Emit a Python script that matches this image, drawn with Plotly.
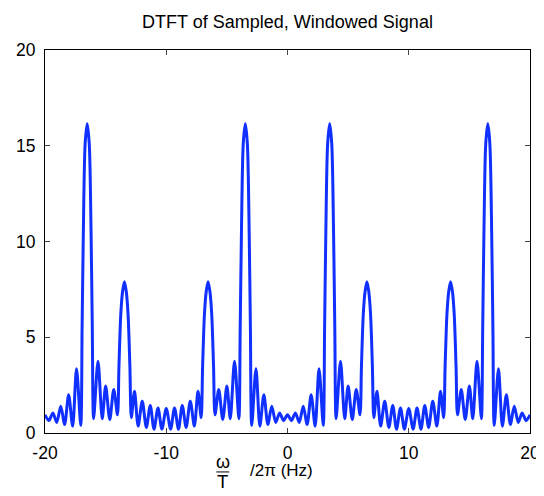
import plotly.graph_objects as go

# frequency (Hz) and |DTFT|, lobe tops and nulls
freq_hz = [-20.00, -19.68, -19.35, -19.03, -18.70, -18.38, -18.05, -17.72, -17.40, -17.05,
           -16.94, -16.84, -16.69, -16.52, -16.35, -16.20, -16.10, -15.99, -15.63, -15.28,
           -15.00, -14.66, -14.33, -14.02, -13.90, -13.75, -13.60, -13.45, -13.30, -13.15,
           -13.00, -12.88, -12.62, -12.32, -11.98, -11.64, -11.32, -11.01, -10.68, -10.36,
           -10.00, -9.64, -9.32, -8.99, -8.68, -8.36, -8.02, -7.68, -7.38, -7.12,
           -7.00, -6.85, -6.70, -6.55, -6.40, -6.25, -6.10, -5.98, -5.67, -5.34,
           -5.00, -4.72, -4.37, -4.01, -3.90, -3.80, -3.65, -3.48, -3.31, -3.16,
           -3.06, -2.95, -2.60, -2.28, -1.95, -1.62, -1.30, -0.97, -0.65, -0.32,
           0.00, 0.32, 0.65, 0.97, 1.30, 1.62, 1.95, 2.28, 2.60, 2.95,
           3.06, 3.16, 3.31, 3.48, 3.65, 3.80, 3.90, 4.01, 4.37, 4.72,
           5.00, 5.34, 5.67, 5.98, 6.10, 6.25, 6.40, 6.55, 6.70, 6.85,
           7.00, 7.12, 7.38, 7.68, 8.02, 8.36, 8.68, 8.99, 9.32, 9.64,
           10.00, 10.36, 10.68, 11.01, 11.32, 11.64, 11.98, 12.32, 12.62, 12.88,
           13.00, 13.15, 13.30, 13.45, 13.60, 13.75, 13.90, 14.02, 14.33, 14.66,
           15.00, 15.28, 15.63, 15.99, 16.10, 16.20, 16.35, 16.52, 16.69, 16.84,
           16.94, 17.05, 17.40, 17.72, 18.05, 18.38, 18.70, 19.03, 19.35, 19.68,
           20.00]

dtft_mag = [0.95, 0.65, 1.05, 0.55, 1.40, 0.45, 2.00, 0.35, 3.35, 0.40,
            5.5, 10.4, 15.1, 16.15, 15.1, 10.4, 5.5, 0.75, 3.75, 0.75,
            2.45, 0.70, 2.27, 0.95, 3.5, 6.2, 7.4, 7.9, 7.4, 6.2,
            3.5, 0.80, 2.18, 0.36, 1.66, 0.29, 1.44, 0.20, 1.31, 0.20,
            1.28, 0.20, 1.31, 0.20, 1.44, 0.29, 1.66, 0.36, 2.18, 0.80,
            3.5, 6.2, 7.4, 7.9, 7.4, 6.2, 3.5, 0.95, 2.27, 0.70,
            2.45, 0.75, 3.75, 0.75, 5.5, 10.4, 15.1, 16.15, 15.1, 10.4,
            5.5, 0.40, 3.35, 0.35, 2.00, 0.45, 1.40, 0.55, 1.05, 0.65,
            0.95, 0.65, 1.05, 0.55, 1.40, 0.45, 2.00, 0.35, 3.35, 0.40,
            5.5, 10.4, 15.1, 16.15, 15.1, 10.4, 5.5, 0.75, 3.75, 0.75,
            2.45, 0.70, 2.27, 0.95, 3.5, 6.2, 7.4, 7.9, 7.4, 6.2,
            3.5, 0.80, 2.18, 0.36, 1.66, 0.29, 1.44, 0.20, 1.31, 0.20,
            1.28, 0.20, 1.31, 0.20, 1.44, 0.29, 1.66, 0.36, 2.18, 0.80,
            3.5, 6.2, 7.4, 7.9, 7.4, 6.2, 3.5, 0.95, 2.27, 0.70,
            2.45, 0.75, 3.75, 0.75, 5.5, 10.4, 15.1, 16.15, 15.1, 10.4,
            5.5, 0.40, 3.35, 0.35, 2.00, 0.45, 1.40, 0.55, 1.05, 0.65,
            0.95]

assert len(freq_hz) == len(dtft_mag)

x_ticks = [-20, -10, 0, 10, 20]
x_labels = ['-20', '-10', '0', '10', '20']
y_ticks = [0, 5, 10, 15, 20]
y_labels = ['0', '5', '10', '15', '20']

font = 'Arial, Liberation Sans, sans-serif'

trace = go.Scatter(x=freq_hz, y=dtft_mag, mode='lines',
                   line=dict(color='rgb(16,48,255)', width=3, shape='spline', smoothing=0.8),
                   showlegend=False)

# page body has an 8px margin, so the figure sits 8px right/down in the window
OFF = 8
W, H = 544 - OFF, 496 - OFF
# plot area in window pixels
L, R, T, B = 44.5, 530, 50, 433.5


def px(x):
    return (x - L) / (R - L)


def py(y):
    return (B - y) / (B - T)


layout = go.Layout(
    width=W, height=H,
    margin=dict(l=L - OFF, r=W - (R - OFF), t=T - OFF, b=H - (B - OFF), pad=0),
    paper_bgcolor='white', plot_bgcolor='white',
    font=dict(family=font, size=17, color='black'),
    title=dict(text='DTFT of Sampled, Windowed Signal', x=0.5, xref='paper',
               y=1 - (22 - OFF) / H, yanchor='middle', font=dict(size=18)),
    xaxis=dict(range=[-20, 20], tickvals=x_ticks, ticktext=x_labels,
               ticks='inside', ticklen=5, ticklabelstandoff=4,
               showline=True, linecolor='black', linewidth=1, mirror='ticks',
               showgrid=False, zeroline=False, automargin=False,
               tickfont=dict(size=17.5)),
    yaxis=dict(range=[0, 20], tickvals=y_ticks, ticktext=y_labels,
               ticks='inside', ticklen=5, ticklabelstandoff=5,
               showline=True, linecolor='black', linewidth=1, mirror='ticks',
               showgrid=False, zeroline=False, automargin=False,
               tickfont=dict(size=17.5)),
    annotations=[
        dict(text='ω', x=px(222.5), y=py(462.5), xref='paper', yref='paper',
             xanchor='center', yanchor='middle', showarrow=False, font=dict(size=18)),
        dict(text='T', x=px(222.5), y=py(482), xref='paper', yref='paper',
             xanchor='center', yanchor='middle', showarrow=False, font=dict(size=18.5)),
        dict(text='/2π (Hz)', x=px(248), y=py(471), xref='paper', yref='paper',
             xanchor='left', yanchor='middle', showarrow=False, font=dict(size=17)),
    ],
    shapes=[dict(type='line', xref='paper', yref='paper',
                 x0=px(216), x1=px(229), y0=py(472.5), y1=py(472.5),
                 line=dict(color='black', width=1))],
)

fig = go.Figure(data=[trace], layout=layout)
fig.write_html('out.html')
